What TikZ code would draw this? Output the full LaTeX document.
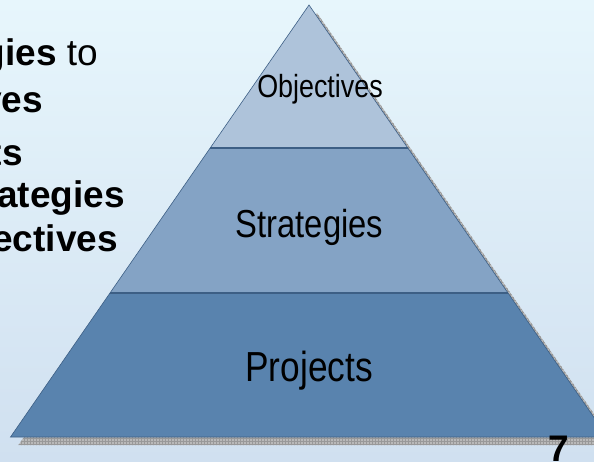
\documentclass[tikz,border=0pt]{standalone}
\usepackage{fontspec}
\setmainfont{Liberation Sans}
\newfontfamily\narrowfont[FakeStretch=0.84]{Liberation Sans}
\usetikzlibrary{positioning, patterns}
\definecolor{bgtop}{HTML}{E7F6FC}
\definecolor{bgbottom}{HTML}{D0E0F0}
\definecolor{objfill}{HTML}{AEC3DA}
\definecolor{strfill}{HTML}{84A3C5}
\definecolor{prjfill}{HTML}{5983AE}
\definecolor{bandline}{HTML}{3D5F85}
\newcommand{\lvl}[1]{\narrowfont\fontsize{#1}{#1}\selectfont}

\begin{document}
\begin{tikzpicture}[
		x=1pt, y=-1pt,
		level/.style={anchor=base, inner sep=0pt, text=black},
		note/.style={anchor=base east, inner sep=0pt, font=\bfseries\fontsize{37}{44}\selectfont},
		sep/.style={bandline, line width=1.5pt},
	]
	\useasboundingbox (0,0) rectangle (594,462);
	\clip (0,0) rectangle (594,462);
	\shade[top color=bgtop, bottom color=bgbottom] (0,0) rectangle (594,462);

	\coordinate (apex) at (309,5);
	\coordinate (obj-l) at (210.2,148);
	\coordinate (obj-r) at (407.8,148);
	\coordinate (str-l) at (110,293);
	\coordinate (str-r) at (508,293);
	\coordinate (prj-l) at (10.5,437);
	\coordinate (prj-r) at (607.5,437);

	% shadow
	\fill[gray!55] ([shift={(8,8)}]apex) -- ([shift={(8,8)}]prj-r) -- ([shift={(8,8)}]prj-l) -- cycle;
	\fill[pattern=grid, pattern color=gray!80] ([shift={(8,8)}]apex) -- ([shift={(8,8)}]prj-r) -- ([shift={(8,8)}]prj-l) -- cycle;

	% bands
	\fill[prjfill] (str-l) -- (str-r) -- (prj-r) -- (prj-l) -- cycle;
	\fill[strfill] (obj-l) -- (obj-r) -- (str-r) -- (str-l) -- cycle;
	\fill[objfill] (apex) -- (obj-r) -- (obj-l) -- cycle;
	\draw[sep] (obj-l) -- (obj-r);
	\draw[sep] (str-l) -- (str-r);
	\draw[bandline, line width=0.6pt] (apex) -- (prj-r) -- (prj-l) -- cycle;

	\node[level, font=\lvl{32}] (objectives) at (320,98) {Objectives};
	\node[level, font=\lvl{39}] (strategies) at (309.5,238) {Strategies};
	\node[level, font=\lvl{42}] (projects) at (309,381.5) {Projects};

	\node[note] (link1) at (98,66) {gies {\mdseries to}};
	\node[note] (link2) at (43,113) {ves};
	\node[note] (link3) at (23,166) {ts};
	\node[note] (link4) at (125,208) {ategies};
	\node[note] (link5) at (118,252) {ectives};

	\node[note, anchor=base] (page) at (559,461) {7};
\end{tikzpicture}
\end{document}
